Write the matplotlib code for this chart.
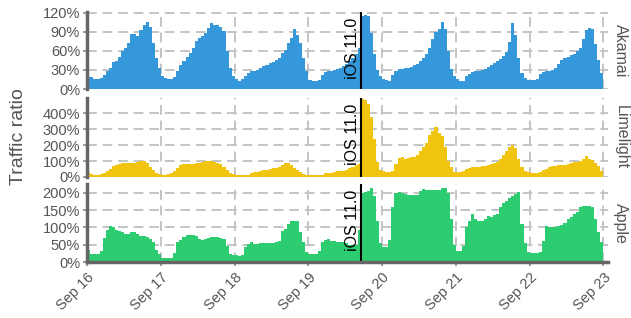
import matplotlib
matplotlib.use("Agg")
import matplotlib.pyplot as plt
import matplotlib.dates as mdates
import numpy as np
import pandas as pd

plt.rcParams['font.family'] = ['Liberation Sans', 'DejaVu Sans']

# hourly traffic ratio (%), Sep 16 00:00 .. Sep 22 23:00
akamai = [
    19, 19, 15, 15, 17, 22, 28, 33, 43, 44, 51, 59, 64, 72, 86, 86, 83, 93, 101, 105, 98, 72, 49, 33,
    21, 17, 16, 16, 19, 28, 38, 44, 50, 57, 64, 75, 80, 83, 88, 96, 103, 101, 100, 98, 91, 59, 33, 21,
    16, 13, 15, 20, 25, 28, 29, 30, 33, 36, 38, 41, 43, 46, 49, 57, 62, 72, 80, 95, 85, 72, 49, 28,
    14, 13, 13, 14, 22, 27, 29, 29, 30, 31, 33, 36, 40, 44, 48, 55, 64, 115, 117, 114, 88, 55, 30, 20,
    15, 14, 13, 22, 28, 31, 32, 33, 33, 35, 38, 40, 44, 48, 55, 64, 78, 90, 95, 105, 95, 60, 32, 20,
    15, 13, 12, 20, 24, 27, 28, 29, 30, 32, 35, 38, 41, 44, 47, 52, 58, 74, 103, 85, 48, 25, 17, 14,
    14, 14, 16, 24, 27, 28, 29, 30, 33, 40, 46, 48, 50, 53, 55, 60, 65, 78, 92, 96, 94, 70, 45, 25,
]
limelight = [
    30, 18, 15, 15, 17, 25, 40, 52, 68, 75, 80, 85, 87, 90, 85, 88, 96, 100, 100, 85, 62, 42, 28, 18,
    15, 14, 16, 28, 38, 55, 75, 79, 80, 82, 84, 87, 90, 94, 98, 100, 102, 95, 88, 80, 62, 42, 25, 18,
    12, 10, 10, 10, 14, 25, 30, 33, 37, 42, 45, 50, 55, 58, 62, 75, 85, 90, 75, 55, 45, 32, 20, 15,
    10, 10, 10, 10, 12, 22, 27, 27, 32, 35, 35, 38, 45, 55, 65, 72, 82, 490, 480, 455, 375, 235, 95, 42,
    35, 32, 32, 40, 80, 120, 125, 112, 118, 123, 128, 135, 160, 185, 210, 265, 290, 310, 275, 255, 185, 100, 60, 32,
    30, 32, 35, 50, 58, 60, 62, 64, 66, 68, 72, 80, 88, 95, 115, 140, 165, 185, 200, 180, 115, 62, 40, 30,
    23, 22, 22, 30, 45, 52, 62, 68, 70, 72, 73, 75, 82, 88, 92, 94, 100, 110, 130, 115, 105, 85, 70, 40,
]
apple = [
    34, 24, 22, 22, 32, 70, 94, 104, 101, 93, 91, 86, 82, 80, 87, 88, 80, 75, 74, 73, 67, 58, 34, 24,
    13, 13, 13, 13, 26, 58, 64, 72, 77, 77, 77, 74, 67, 63, 67, 70, 72, 72, 72, 70, 67, 46, 22, 19,
    19, 18, 19, 43, 53, 58, 53, 53, 55, 55, 55, 55, 55, 58, 62, 91, 96, 111, 118, 118, 118, 87, 58, 29,
    22, 22, 22, 32, 58, 65, 67, 62, 60, 58, 58, 58, 55, 50, 48, 50, 92, 200, 204, 206, 215, 190, 120, 55,
    43, 43, 64, 158, 200, 202, 200, 196, 193, 194, 195, 195, 205, 212, 210, 210, 208, 208, 210, 213, 215, 200, 125, 50,
    32, 32, 47, 100, 120, 140, 125, 120, 118, 125, 132, 130, 135, 138, 160, 170, 178, 185, 192, 198, 202, 110, 55, 30,
    27, 27, 25, 30, 60, 105, 102, 100, 100, 105, 108, 112, 125, 130, 140, 145, 160, 162, 162, 162, 158, 125, 87, 57,
]

cdns = ["Akamai", "Limelight", "Apple"]
series = [akamai, limelight, apple]
colors = ["#3498db", "#f1c40f", "#2ecc71"]
yticks = [[0, 30, 60, 90, 120], [0, 100, 200, 300, 400], [0, 50, 100, 150, 200]]
ytops = [121, 494, 226]

hours = pd.date_range("2017-09-16", periods=168, freq="h")
days = pd.date_range("2017-09-16", "2017-09-23", freq="D")
release = pd.Timestamp("2017-09-19 17:00")

fig = plt.figure(figsize=(6.31, 3.18), dpi=100)
boxes = [(0.7201, 0.2421), (0.4434, 0.2484), (0.1761, 0.2453)]
x0 = mdates.date2num(pd.Timestamp("2017-09-16")) - 0.003
x1 = mdates.date2num(pd.Timestamp("2017-09-23")) + 1.5 / 24

grey = "#555555"
for i, (name, vals, col) in enumerate(zip(cdns, series, colors)):
    b, h = boxes[i]
    ax = fig.add_axes([0.1379, b, 0.8257, h])
    ax.set_axisbelow(True)
    ax.bar(hours, vals, width=1 / 24, align="edge", color=col, linewidth=0)
    ax.set_xlim(x0, x1)
    ax.set_ylim(0, ytops[i])
    ax.set_yticks(yticks[i])
    ax.set_yticklabels([f"{v}%" for v in yticks[i]])
    ax.set_xticks(days)
    ax.grid(True, color="#c4c4c4", linestyle=(0, (5, 3)), linewidth=1.4)
    for s in ["top", "right"]:
        ax.spines[s].set_visible(False)
    ax.spines["left"].set_color("#666666")
    ax.spines["left"].set_linewidth(2.5)
    if i < 2:
        ax.spines["bottom"].set_visible(False)
        ax.tick_params(axis="x", length=0, labelbottom=False)
    else:
        ax.spines["bottom"].set_color("#666666")
        ax.spines["bottom"].set_linewidth(2.5)
        ax.set_xticklabels([d.strftime("%b %d") for d in days], rotation=45,
                           ha="right", va="top", rotation_mode="anchor")
        ax.tick_params(axis="x", length=3, width=1.2, color="#888888",
                       labelsize=10.5, labelcolor=grey, pad=3)
    ax.tick_params(axis="y", length=3, width=1.2, color="#888888",
                   labelsize=10.5, labelcolor=grey, pad=2)
    ax.axvline(release, color="black", linewidth=1.5)
    ax.text(release - pd.Timedelta(minutes=20), ytops[i] * 0.93, "iOS 11.0",
            rotation=90, ha="right", va="top", fontsize=11.5, color="black")
    fig.text(0.972, b + h / 2, name, rotation=-90,
             ha="left", va="center", fontsize=11.5, color=grey)

fig.text(0.03, 0.57, "Traffic ratio", rotation=90, ha="center", va="center",
         fontsize=14, color=grey)

fig.savefig("out.png", dpi=100)
